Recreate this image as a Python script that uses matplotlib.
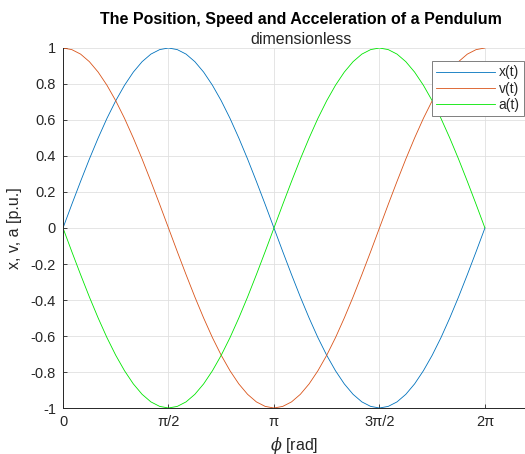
import numpy as np
import matplotlib
matplotlib.use("Agg")
import matplotlib.pyplot as plt

# sampling angles in degrees
phi_deg = [0, 7.5, 15, 22.5, 30, 37.5, 45, 52.5, 60, 67.5, 75, 82.5, 90,
           97.5, 105, 112.5, 120, 127.5, 135, 142.5, 150, 157.5, 165, 172.5, 180,
           187.5, 195, 202.5, 210, 217.5, 225, 232.5, 240, 247.5, 255, 262.5, 270,
           277.5, 285, 292.5, 300, 307.5, 315, 322.5, 330, 337.5, 345, 352.5, 360]

x_t = [0, 0.131, 0.259, 0.383, 0.5, 0.609, 0.707, 0.793, 0.866, 0.924, 0.966, 0.991, 1,
       0.991, 0.966, 0.924, 0.866, 0.793, 0.707, 0.609, 0.5, 0.383, 0.259, 0.131, 0,
       -0.131, -0.259, -0.383, -0.5, -0.609, -0.707, -0.793, -0.866, -0.924, -0.966, -0.991, -1,
       -0.991, -0.966, -0.924, -0.866, -0.793, -0.707, -0.609, -0.5, -0.383, -0.259, -0.131, 0]

v_t = [1, 0.991, 0.966, 0.924, 0.866, 0.793, 0.707, 0.609, 0.5, 0.383, 0.259, 0.131, 0,
       -0.131, -0.259, -0.383, -0.5, -0.609, -0.707, -0.793, -0.866, -0.924, -0.966, -0.991, -1,
       -0.991, -0.966, -0.924, -0.866, -0.793, -0.707, -0.609, -0.5, -0.383, -0.259, -0.131, 0,
       0.131, 0.259, 0.383, 0.5, 0.609, 0.707, 0.793, 0.866, 0.924, 0.966, 0.991, 1]

a_t = [0, -0.131, -0.259, -0.383, -0.5, -0.609, -0.707, -0.793, -0.866, -0.924, -0.966, -0.991, -1,
       -0.991, -0.966, -0.924, -0.866, -0.793, -0.707, -0.609, -0.5, -0.383, -0.259, -0.131, 0,
       0.131, 0.259, 0.383, 0.5, 0.609, 0.707, 0.793, 0.866, 0.924, 0.966, 0.991, 1,
       0.991, 0.966, 0.924, 0.866, 0.793, 0.707, 0.609, 0.5, 0.383, 0.259, 0.131, 0]

series_labels = ["x(t)", "v(t)", "a(t)"]
xtick_vals = [0, np.pi / 2, np.pi, 3 * np.pi / 2, 2 * np.pi]
xtick_labels = ["0", "\u03c0/2", "\u03c0", "3\u03c0/2", "2\u03c0"]
ytick_vals = [-1, -0.8, -0.6, -0.4, -0.2, 0, 0.2, 0.4, 0.6, 0.8, 1]
ytick_labels = ["-1", "-0.8", "-0.6", "-0.4", "-0.2", "0", "0.2", "0.4", "0.6", "0.8", "1"]

plt.rcParams['font.family'] = ['Liberation Sans', 'DejaVu Sans']
plt.rcParams['mathtext.fontset'] = 'dejavuserif'

fig = plt.figure(figsize=(5.25, 4.54), dpi=100)
ax = fig.add_axes([0.12, 0.1013, 0.88, 0.793])

phi = np.deg2rad(phi_deg)
colors = ["#0072BD", "#D95319", "#00E600"]
for y, lab, c in zip([x_t, v_t, a_t], series_labels, colors):
    ax.plot(phi, y, color=c, lw=0.6, label=lab)

dark = "#262626"
ax.set_xlim(0, 6.88)
ax.set_ylim(-1, 1)
ax.set_xticks(xtick_vals)
ax.set_xticklabels(xtick_labels)
ax.set_yticks(ytick_vals)
ax.set_yticklabels(ytick_labels)
ax.tick_params(direction='in', length=3, width=0.6, colors=dark, labelsize=10.5, pad=5)
ax.grid(True, color="#E0E0E0", lw=0.6)
ax.set_axisbelow(True)
for s in ["top", "right"]:
    ax.spines[s].set_visible(False)
for s in ["left", "bottom"]:
    ax.spines[s].set_color(dark)
    ax.spines[s].set_linewidth(0.7)

ax.set_xlabel(r"$\phi$ [rad]", fontsize=11.5, color=dark, labelpad=4)
ax.set_ylabel("x, v, a [p.u.]", fontsize=11.5, color=dark, labelpad=6)

fig.text(0.574, 0.958, "The Position, Speed and Acceleration of a Pendulum",
         ha='center', va='center', fontsize=11.5, fontweight='bold', color='black')
fig.text(0.574, 0.912, "dimensionless", ha='center', va='center', fontsize=11.5, color=dark)

leg = ax.legend(loc='upper right', bbox_to_anchor=(0.998, 0.865),
                bbox_transform=fig.transFigure, borderaxespad=0, fontsize=10,
                fancybox=False, frameon=True, handlelength=4.2, handletextpad=0.3,
                labelspacing=0.15, borderpad=0.3, framealpha=1)
leg.get_frame().set_edgecolor("#7F7F7F")
leg.get_frame().set_linewidth(0.7)
for t in leg.get_texts():
    t.set_color(dark)

fig.savefig("out.png", dpi=100)
